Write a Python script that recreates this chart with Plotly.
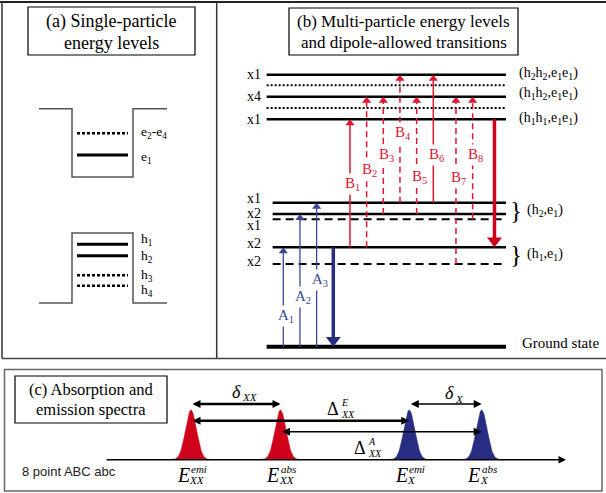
import numpy as np
import plotly.graph_objects as go

W, H = 606, 493
SERIF = "Liberation Serif, Times New Roman, serif"
SANS = "Liberation Sans, Arial, sans-serif"
RED = "#d0021b"
RED_T = "#e01530"
BLUE = "#262d82"
BLUE_T = "#3b4796"

# ---------------- data ----------------
# (a) single-particle levels (energy, a.u.)
cb_well = [1.697, 2.380]            # conduction-band well: bottom, barrier
vb_well = [0.437, 1.137]            # valence-band well: barrier, top
e_labels = ["e<sub>2</sub>-e<sub>4</sub>", "e<sub>1</sub>"]
e_E = [2.134, 1.917]
h_labels = ["h<sub>1</sub>", "h<sub>2</sub>", "h<sub>3</sub>", "h<sub>4</sub>"]
h_E = [1.024, 0.910, 0.714, 0.610]

# (b) multi-particle levels
lvl_keys = ["h2h2", "h1h2d", "h1h2", "h1h1d", "h1h1",
            "h2e1a", "h2e1b", "h2e1c", "h1e1a", "h1e1b", "gs"]
lvl_E = [2.720, 2.614, 2.500, 2.387, 2.274,
         1.440, 1.327, 1.274, 0.994, 0.827, 0.000]
lvl_deg = ["x1", "", "x4", "", "x1", "x1", "x2", "x1", "x2", "x2", ""]
state_labels = ["(h<sub>2</sub>h<sub>2</sub>,e<sub>1</sub>e<sub>1</sub>)",
                "(h<sub>1</sub>h<sub>2</sub>,e<sub>1</sub>e<sub>1</sub>)",
                "(h<sub>1</sub>h<sub>1</sub>,e<sub>1</sub>e<sub>1</sub>)"]
state_levels = ["h2h2", "h1h2", "h1h1"]
group_labels = ["(h<sub>2</sub>,e<sub>1</sub>)", "(h<sub>1</sub>,e<sub>1</sub>)"]
group_levels = [("h2e1a", "h2e1c"), ("h1e1a", "h1e1b")]

trans_names = ["A<sub>1</sub>", "A<sub>2</sub>", "A<sub>3</sub>", "",
               "B<sub>1</sub>", "B<sub>2</sub>", "B<sub>3</sub>", "B<sub>4</sub>",
               "B<sub>5</sub>", "B<sub>6</sub>", "B<sub>7</sub>", "B<sub>8</sub>", ""]
trans_from = ["gs", "gs", "gs", "h1e1a", "h1e1a", "h1e1a", "h2e1b", "h2e1a",
              "h2e1b", "h2e1a", "h1e1b", "h2e1c", "h1h1"]
trans_to = ["h1e1a", "h2e1b", "h2e1a", "gs", "h1h1", "h1h2", "h1h2", "h2h2",
            "h1h2", "h2h2", "h1h2", "h1h2", "h1e1a"]

# (c) spectra
peak_main = ["E", "E", "E", "E"]
peak_sup = ["emi", "abs", "emi", "abs"]
peak_sub = ["XX", "XX", "X", "X"]
peak_E = [0.86, 1.755, 3.043, 3.767]
peak_I = [1.0, 1.0, 1.0, 1.0]
peak_sigma = 0.055

# ---------------- styles / layout constants ----------------
lvl_dash = ["solid", "2px,2px", "solid", "2px,2px", "solid",
            "solid", "solid", "8px,5px", "solid", "8px,5px", "solid"]
lvl_width = [2.5, 2, 2.5, 2, 2.5, 2.5, 2.5, 2, 2.5, 2, 4]
lvl_x0 = [-1, -1, -1, -1, -1, -0.64, -0.64, -0.64, -0.64, -0.64, -1]
LVL_X1 = 13.36
deg_yshift = [0, 0, 0, 0, 0, 4.7, 1.0, -5.7, 4.3, 3.0, 0]

trans_slot = [0, 1, 2, 3, 4, 5, 6, 7, 8, 9, 10.36, 11.36, 12.67]
trans_color = [BLUE_T, BLUE_T, BLUE_T, BLUE, RED_T, RED_T, RED_T, RED_T,
               RED_T, RED_T, RED_T, RED_T, RED]
trans_dash = ["solid", "solid", "solid", "solid", "solid", "6px,4px", "6px,4px",
              "6px,4px", "6px,4px", "solid", "6px,4px", "6px,4px", "solid"]
trans_width = [1.3, 1.3, 1.3, 3.5, 1.5, 1.5, 1.5, 1.5, 1.5, 1.5, 1.5, 1.5, 3.5]
trans_label_py = [316, 297, 280, None, 184, 170, 155, 133, 177, 155, 178, 155, None]

XDIV, YDIV = 216.7, 358.0
E0_PX, PXE = 346.7, 100.0          # panel a/b energy scale
SLOT0, SLOTW = 283.3, 16.667        # panel b horizontal slots
C0, CPX = 105.0, 100.0              # panel c energy axis
YC_TOP, BASE, IPX = 360.0, 459.7, 49.7

fig = go.Figure()


def P(px, py):
    return px / W, 1 - py / H


def E_of_py(py):
    return (E0_PX - py) / PXE


# ---------------- panel (a) ----------------
WELL_X = [39, 72, 133, 167]
LVL_X = [77, 128]
WELL_COL = "#555555"
fig.add_trace(go.Scatter(
    x=[WELL_X[0], WELL_X[1], WELL_X[1], WELL_X[2], WELL_X[2], WELL_X[3]],
    y=[cb_well[1], cb_well[1], cb_well[0], cb_well[0], cb_well[1], cb_well[1]],
    mode="lines", line=dict(color=WELL_COL, width=1.5), xaxis="x", yaxis="y",
    hoverinfo="skip"))
fig.add_trace(go.Scatter(
    x=[WELL_X[0], WELL_X[1], WELL_X[1], WELL_X[2], WELL_X[2], WELL_X[3]],
    y=[vb_well[0], vb_well[0], vb_well[1], vb_well[1], vb_well[0], vb_well[0]],
    mode="lines", line=dict(color=WELL_COL, width=1.5), xaxis="x", yaxis="y",
    hoverinfo="skip"))
e_dash = ["3px,2px", "solid"]
e_w = [2.5, 3]
for E, d, w in zip(e_E, e_dash, e_w):
    fig.add_trace(go.Scatter(x=LVL_X, y=[E, E], mode="lines",
                             line=dict(color="black", width=w, dash=d),
                             xaxis="x", yaxis="y", hoverinfo="skip"))
h_dash = ["solid", "solid", "3px,2px", "3px,2px"]
h_w = [3, 3, 2.5, 2.5]
for E, d, w in zip(h_E, h_dash, h_w):
    fig.add_trace(go.Scatter(x=LVL_X, y=[E, E], mode="lines",
                             line=dict(color="black", width=w, dash=d),
                             xaxis="x", yaxis="y", hoverinfo="skip"))

ann = []
e_ys = [1, -2]
for t, E, ys in zip(e_labels, e_E, e_ys):
    ann.append(dict(x=139, y=E, xref="x", yref="y", text=t, showarrow=False,
                    xanchor="left", yanchor="middle", yshift=ys,
                    font=dict(family=SERIF, size=13.5, color="black")))
h_ys = [5, -1, -0.5, -4.5]
for t, E, ys in zip(h_labels, h_E, h_ys):
    ann.append(dict(x=139, y=E, xref="x", yref="y", text=t, showarrow=False,
                    xanchor="left", yanchor="middle", yshift=ys,
                    font=dict(family=SERIF, size=13.5, color="black")))

# ---------------- panel (b) ----------------
E_of = dict(zip(lvl_keys, lvl_E))
for k, E, d, w, x0 in zip(lvl_keys, lvl_E, lvl_dash, lvl_width, lvl_x0):
    fig.add_trace(go.Scatter(x=[x0, LVL_X1], y=[E, E], mode="lines",
                             line=dict(color="black", width=w, dash=d),
                             xaxis="x2", yaxis="y", hoverinfo="skip"))

for name, fr, to, slot, col, dsh, w, lpy in zip(trans_names, trans_from, trans_to,
                                                 trans_slot, trans_color, trans_dash,
                                                 trans_width, trans_label_py):
    e0, e1 = E_of[fr], E_of[to]
    up = e1 > e0
    size = 13 if w > 3 else 8
    off = (size / 2) / PXE
    ec = e1 - off if up else e1 + off
    fig.add_trace(go.Scatter(x=[slot, slot], y=[e0, ec], mode="lines",
                             line=dict(color=col, width=w, dash=dsh),
                             xaxis="x2", yaxis="y", hoverinfo="skip"))
    fig.add_trace(go.Scatter(x=[slot], y=[ec], mode="markers",
                             marker=dict(symbol="triangle-up" if up else "triangle-down",
                                         size=size, color=col, line=dict(width=0)),
                             xaxis="x2", yaxis="y", hoverinfo="skip"))
    if name:
        ann.append(dict(x=slot, y=E_of_py(lpy), xref="x2", yref="y", text=name,
                        showarrow=False, xanchor="center", yanchor="middle", xshift=3,
                        bgcolor="white", borderpad=1,
                        font=dict(family=SERIF, size=15, color=col)))

for k, E, t, ys in zip(lvl_keys, lvl_E, lvl_deg, deg_yshift):
    if t:
        ann.append(dict(x=-1.22, y=E, xref="x2", yref="y", text=t, showarrow=False,
                        xanchor="right", yanchor="middle", yshift=ys,
                        font=dict(family=SERIF, size=14, color="black")))

state_ys = [1.5, 3.5, 0.5]
for t, k, ys in zip(state_labels, state_levels, state_ys):
    ann.append(dict(x=14.0, y=E_of[k], xref="x2", yref="y", text=t, showarrow=False,
                    xanchor="left", yanchor="middle", yshift=ys,
                    font=dict(family=SERIF, size=14, color="black")))
for t, (ka, kb) in zip(group_labels, group_levels):
    Em = (E_of[ka] + E_of[kb]) / 2
    ann.append(dict(x=13.96, y=Em, xref="x2", yref="y", text="}", showarrow=False,
                    xanchor="center", yanchor="middle", yshift=1,
                    font=dict(family=SERIF, size=25, color="black")))
    ann.append(dict(x=14.5, y=Em, xref="x2", yref="y", text=t, showarrow=False,
                    xanchor="left", yanchor="middle", yshift=1,
                    font=dict(family=SERIF, size=14, color="black")))
ann.append(dict(x=14.2, y=E_of["gs"], xref="x2", yref="y", text="Ground state",
                showarrow=False, xanchor="left", yanchor="middle", yshift=4,
                font=dict(family=SERIF, size=15, color="black")))

# ---------------- panel (c) ----------------
peak_col = [RED, RED, BLUE, BLUE]
for c, h, col in zip(peak_E, peak_I, peak_col):
    xx = np.linspace(c - 0.22, c + 0.22, 89)
    yy = h * np.exp(-0.5 * ((xx - c) / peak_sigma) ** 2)
    fig.add_trace(go.Scatter(x=xx, y=yy, mode="lines", fill="tozeroy",
                             fillcolor=col, line=dict(color=col, width=0.5),
                             xaxis="x3", yaxis="y3", hoverinfo="skip"))

AX_END = 4.61
ann.append(dict(x=AX_END, y=0, ax=0, ay=0, xref="x3", yref="y3", axref="x3",
                ayref="y3", text="", showarrow=True, arrowhead=2, arrowsize=1.0,
                arrowwidth=1.5, arrowcolor="black", font=dict(size=1)))

pairs = [(0, 1, 1.12, 2.5), (0, 2, 0.785, 2.5), (1, 3, 0.563, 1.5), (2, 3, 1.12, 1.5)]
for a, b, hgt, w in pairs:
    s = 8.0 / (5 * w)
    ann.append(dict(x=peak_E[b], y=hgt, ax=peak_E[a], ay=hgt, xref="x3", yref="y3",
                    axref="x3", ayref="y3", text="", showarrow=True,
                    arrowside="end+start", arrowhead=2, startarrowhead=2,
                    arrowsize=s, startarrowsize=s, arrowwidth=w,
                    arrowcolor="black", standoff=0, startstandoff=0,
                    font=dict(size=1)))


def sym(main, sup, sub, cx, cy, msize, ssize, sup_dx, sup_dy, sub_dx, sub_dy,
        main_italic=True):
    x, y = P(cx, cy)
    mt = "<i>%s</i>" % main if main_italic else main
    ann.append(dict(x=x, y=y, xref="paper", yref="paper", text=mt, showarrow=False,
                    xanchor="center", yanchor="middle",
                    font=dict(family=SERIF, size=msize, color="black")))
    if sup:
        x, y = P(cx + sup_dx, cy + sup_dy)
        ann.append(dict(x=x, y=y, xref="paper", yref="paper", text="<i>%s</i>" % sup,
                        showarrow=False, xanchor="left", yanchor="middle",
                        font=dict(family=SERIF, size=ssize, color="black")))
    if sub:
        x, y = P(cx + sub_dx, cy + sub_dy)
        ann.append(dict(x=x, y=y, xref="paper", yref="paper", text="<i>%s</i>" % sub,
                        showarrow=False, xanchor="left", yanchor="middle",
                        font=dict(family=SERIF, size=ssize, color="black")))


for m, sp, sb, E in zip(peak_main, peak_sup, peak_sub, peak_E):
    px = C0 + CPX * E
    sym(m, sp, sb, px - 8, 474.5, 20, 11, 6, -5.5, 4, 5.5)

sym("δ", None, "XX", 236, 392, 18, 11, 0, 0, 4, 5)
sym("δ", None, "X", 449, 393, 18, 11, 0, 0, 4, 6)
sym("Δ", "E", "XX", 333, 409, 18, 10, 6, -7, 6, 5, main_italic=False)
sym("Δ", "A", "XX", 360, 448, 18, 10, 6, -7, 6, 5, main_italic=False)

x, y = P(20, 471)
ann.append(dict(x=x, y=y, xref="paper", yref="paper", text="8 point ABC abc",
                showarrow=False, xanchor="left", yanchor="middle",
                font=dict(family=SANS, size=13, color="#222222")))

# ---------------- titles ----------------
def title(lines, cx, cys, size):
    for t, cy in zip(lines, cys):
        x, y = P(cx, cy)
        ann.append(dict(x=x, y=y, xref="paper", yref="paper", text=t,
                        showarrow=False, xanchor="center", yanchor="middle",
                        font=dict(family=SERIF, size=size, color="black")))


title(["(a) Single-particle", "energy levels"], 111, [22, 43], 18)
title(["(b) Multi-particle energy levels", "and dipole-allowed transitions"],
      403.5, [22, 42], 17)
title(["(c) Absorption and", "emission spectra"], 91, [389, 409], 16.5)

shapes = []


def rect(x0, y0, x1, y1, col="black", w=1.2):
    a0, b0 = P(x0, y0)
    a1, b1 = P(x1, y1)
    shapes.append(dict(type="rect", xref="paper", yref="paper", x0=a0, y0=b1,
                       x1=a1, y1=b0, line=dict(color=col, width=w),
                       fillcolor="rgba(0,0,0,0)", layer="below"))


def seg(x0, y0, x1, y1, col="#333333", w=1.5):
    a0, b0 = P(x0, y0)
    a1, b1 = P(x1, y1)
    shapes.append(dict(type="line", xref="paper", yref="paper", x0=a0, y0=b0,
                       x1=a1, y1=b1, line=dict(color=col, width=w), layer="below"))


rect(28, 7, 195, 55)
rect(289, 8, 518, 55)
rect(15, 376, 167, 423)
seg(0, 2, 606, 2, "#222222", 2)
seg(2, 2, 2, 358.5, "#333333", 1.5)
seg(XDIV, 2, XDIV, 358.5, "#333333", 1.5)
seg(2, 358.5, 606, 358.5, "#444444", 1.5)
rect(4.5, 369.5, 602, 491, "#666666", 1.5)

ax_common = dict(visible=False, fixedrange=True, showgrid=False, zeroline=False)
fig.update_layout(
    width=W, height=H, margin=dict(l=0, r=0, t=0, b=0, pad=0),
    paper_bgcolor="white", plot_bgcolor="rgba(0,0,0,0)", showlegend=False,
    xaxis=dict(domain=[0, XDIV / W], range=[0, XDIV], anchor="y", **ax_common),
    yaxis=dict(domain=[1 - YDIV / H, 1], range=[(E0_PX - YDIV) / PXE, E0_PX / PXE],
               anchor="x", **ax_common),
    xaxis2=dict(domain=[XDIV / W, 1],
                range=[(XDIV - SLOT0) / SLOTW, (W - SLOT0) / SLOTW],
                anchor="y", **ax_common),
    xaxis3=dict(domain=[0, 1], range=[(0 - C0) / CPX, (W - C0) / CPX],
                anchor="y3", **ax_common),
    yaxis3=dict(domain=[0, (H - YC_TOP) / H],
                range=[-(H - BASE) / IPX, (BASE - YC_TOP) / IPX],
                anchor="x3", **ax_common),
    annotations=ann, shapes=shapes,
)

fig.write_html("out.html", config=dict(displayModeBar=False, staticPlot=True),
               post_script="document.body.style.margin='0';"
                           "document.body.style.overflow='hidden';")
